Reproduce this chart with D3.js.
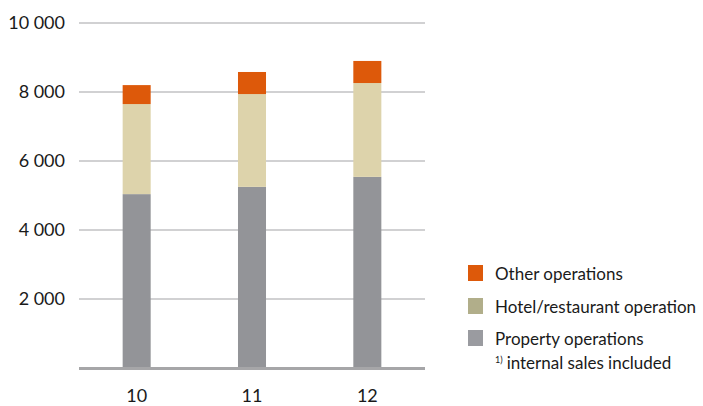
<!DOCTYPE html>
<html>
<head>
<meta charset="utf-8">
<script src="https://cdn.jsdelivr.net/npm/d3@7"></script>
<style>
  html, body { margin: 0; padding: 0; background: #fff; }
  svg { display: block; font-family: Lato, "Open Sans", sans-serif; }
</style>
</head>
<body>
<svg id="chart" width="703" height="406"></svg>
<script>
// Years on the x axis
const years = ["10", "11", "12"];
// Segment values per year (bottom to top)
const propertyOps = [5040, 5250, 5540];
const hotelOps = [2610, 2690, 2720];
const otherOps = [550, 640, 640];
// Y axis ticks
const yTicks = [2000, 4000, 6000, 8000, 10000];

const seriesKeys = ["property", "hotel", "other"];
const barColors = { property: "#939498", hotel: "#ddd3ab", other: "#dd590a" };
const legendItems = [
  { label: "Other operations", color: "#dd590a" },
  { label: "Hotel/restaurant operation", color: "#b1ae8a" },
  { label: "Property operations", color: "#9a9ba0" }
];

const rows = years.map((yr, i) => ({
  year: yr, property: propertyOps[i], hotel: hotelOps[i], other: otherOps[i]
}));

const svg = d3.select("#chart");
const plotLeft = 79, plotRight = 425, plotTop = 23, plotBottom = 368;

const x = d3.scaleBand().domain(years).range([plotLeft, plotRight])
  .paddingInner(0.757).paddingOuter(0.3785);
const y = d3.scaleLinear().domain([0, 10000]).range([plotBottom, plotTop]);

// gridlines
svg.append("g").selectAll("line").data(yTicks).join("line")
  .attr("x1", plotLeft).attr("x2", plotRight)
  .attr("y1", d => y(d)).attr("y2", d => y(d))
  .attr("stroke", "#a3a3a6").attr("stroke-width", 1);

// y tick labels
svg.append("g").selectAll("text").data(yTicks).join("text")
  .attr("x", 65).attr("y", d => y(d)).attr("dy", "0.35em")
  .attr("text-anchor", "end").attr("font-size", 18).attr("fill", "#1a1a1a")
  .text(d => d3.format(",")(d).replace(/,/g, " "));

// stacked bars
const stacked = d3.stack().keys(seriesKeys)(rows);
svg.append("g").selectAll("g").data(stacked).join("g")
  .attr("fill", d => barColors[d.key])
  .selectAll("rect").data(d => d).join("rect")
  .attr("x", d => x(d.data.year))
  .attr("width", x.bandwidth())
  .attr("y", d => y(d[1]))
  .attr("height", d => y(d[0]) - y(d[1]));

// baseline
svg.append("line")
  .attr("x1", plotLeft).attr("x2", plotRight)
  .attr("y1", y(0) + 0.5).attr("y2", y(0) + 0.5)
  .attr("stroke", "#a6a6a8").attr("stroke-width", 3);

// x labels
svg.append("g").selectAll("text").data(years).join("text")
  .attr("x", d => x(d) + x.bandwidth() / 2).attr("y", 396)
  .attr("dy", "0.35em")
  .attr("text-anchor", "middle").attr("font-size", 18).attr("fill", "#1a1a1a")
  .text(d => d);

// legend
const lg = svg.append("g");
const legendY = [265, 298, 330];
legendItems.forEach((it, i) => {
  lg.append("rect").attr("x", 468).attr("y", legendY[i])
    .attr("width", 15).attr("height", 16).attr("fill", it.color);
  lg.append("text").attr("x", 495).attr("y", legendY[i] + 9).attr("dy", "0.35em")
    .attr("font-size", 17).attr("fill", "#1a1a1a").text(it.label);
});
const note = lg.append("text").attr("x", 495).attr("y", 366).attr("dy", "0.35em")
  .attr("font-size", 17).attr("fill", "#1a1a1a");
note.append("tspan").attr("font-size", 9).attr("dy", "-0.35em").text("1)");
note.append("tspan").attr("dy", "0.35em").attr("dx", 4).text("internal sales included");
</script>
</body>
</html>
